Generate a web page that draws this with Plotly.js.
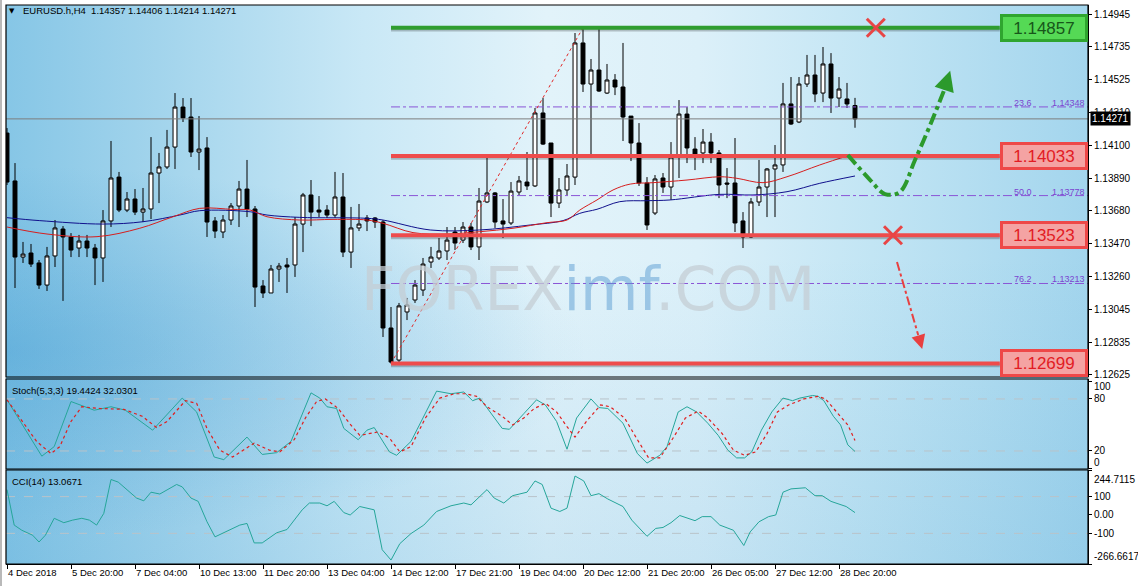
<!DOCTYPE html>
<html><head><meta charset="utf-8">
<script src="https://cdn.plot.ly/plotly-3.0.1.min.js"></script>
<style>
html,body{margin:0;padding:0;background:#fff;}
#wrap{position:relative;width:1138px;height:586px;overflow:hidden;background:#fff;}
#bg{position:absolute;left:6px;top:5px;width:1082px;height:559px;
background:
 radial-gradient(ellipse at 0% 62%, rgba(50,145,205,0.35) 0%, rgba(50,145,205,0) 38%),
 linear-gradient(180deg, rgba(255,255,255,0) 45%, rgba(40,140,200,0.12) 100%),
 linear-gradient(90deg, #86c6e6 0%, #a2d4ec 14%, #c9e8f6 33%, #e2f3fa 50%, #dcf0f9 64%, #c2e5f4 80%, #a3d5ed 100%);}
#frame{position:absolute;left:0;top:0;width:2px;height:586px;background:#b9b9b9;}
#chart{position:absolute;left:0;top:0;width:1138px;height:586px;}
</style></head>
<body><div id="wrap"><div id="bg"></div><div id="frame"></div><div id="chart"></div></div>
<script>
// ---------- DATA ----------
const symbolName = 'EURUSD.h,H4';
const timeTickIdx = [0, 8, 16, 24, 32, 40, 48, 56, 64, 72, 80, 88, 96, 104];
const timeTickText = ['4 Dec 2018','5 Dec 20:00','7 Dec 04:00','10 Dec 13:00','11 Dec 20:00','13 Dec 04:00','14 Dec 12:00','17 Dec 21:00','19 Dec 04:00','20 Dec 12:00','21 Dec 20:00','26 Dec 05:00','27 Dec 12:00','28 Dec 20:00'];
const priceTicks = [1.14945,1.14735,1.14525,1.14310,1.14100,1.13890,1.13680,1.13470,1.13260,1.13045,1.12835,1.12625];

const open = [1.14180,1.13872,1.13383,1.13409,1.13345,1.13203,1.13390,1.13563,1.13512,1.13441,
1.13486,1.13441,1.13377,1.13615,1.13897,1.13685,1.13756,1.13672,1.13692,1.13923,
1.13962,1.14090,1.14347,1.14283,1.14058,1.14084,1.13615,1.13544,1.13621,1.13711,
1.13820,1.13692,1.13197,1.13152,1.13306,1.13332,1.13332,1.13595,1.13782,1.13685,
1.13685,1.13653,1.13769,1.13415,1.13570,1.13634,1.13634,1.13608,1.12927,1.12721,
1.13030,1.13107,1.13171,1.13351,1.13377,1.13422,1.13544,1.13492,1.13576,1.13448,
1.13737,1.13795,1.13615,1.13602,1.13801,1.13865,1.13840,1.14309,1.14116,1.13730,
1.13814,1.13897,1.14759,1.14495,1.14585,1.14437,1.14521,1.14476,1.14289,1.14116,
1.13859,1.13666,1.13891,1.13833,1.14026,1.14302,1.14077,1.14052,1.14122,1.14052,
1.13859,1.13859,1.13615,1.13512,1.13737,1.13833,1.13949,1.13975,1.14367,1.14251,
1.14495,1.14553,1.14437,1.14624,1.14405,1.14399,1.14357];
const high = [1.14212,1.13987,1.13480,1.13467,1.13364,1.13448,1.13621,1.13582,1.13537,1.13525,
1.13525,1.13467,1.13685,1.14129,1.13930,1.13801,1.13820,1.13827,1.14154,1.14052,
1.14200,1.14437,1.14405,1.14405,1.14289,1.14154,1.13640,1.13653,1.13730,1.13872,
1.14007,1.13711,1.13235,1.13332,1.13345,1.13377,1.13640,1.13795,1.13878,1.13775,
1.13717,1.13930,1.13923,1.13705,1.13724,1.13653,1.13640,1.13621,1.13062,1.13088,
1.13120,1.13235,1.13377,1.13448,1.13505,1.13576,1.13576,1.13608,1.13602,1.13827,
1.14026,1.13801,1.13756,1.13865,1.13904,1.14058,1.14341,1.14405,1.14116,1.13891,
1.13981,1.14823,1.14857,1.14656,1.14857,1.14624,1.14559,1.14759,1.14289,1.14244,
1.13897,1.13910,1.13923,1.14122,1.14392,1.14347,1.14154,1.14206,1.14180,1.14071,
1.13955,1.14148,1.13672,1.13762,1.14007,1.13955,1.14103,1.14502,1.14540,1.14540,
1.14682,1.14682,1.14733,1.14694,1.14540,1.14502,1.14406];
const low = [1.13846,1.13184,1.13345,1.13319,1.13178,1.13165,1.13319,1.13101,1.13383,1.13383,
1.13383,1.13203,1.13223,1.13576,1.13672,1.13672,1.13653,1.13608,1.13627,1.13730,
1.13949,1.13949,1.14251,1.14026,1.13942,1.13512,1.13505,1.13505,1.13589,1.13576,
1.13640,1.13062,1.13120,1.13152,1.13223,1.13152,1.13255,1.13415,1.13582,1.13640,
1.13634,1.13634,1.13383,1.13313,1.13550,1.13550,1.13570,1.12869,1.12699,1.12702,
1.12978,1.13088,1.13133,1.13313,1.13364,1.13364,1.13428,1.13473,1.13428,1.13364,
1.13730,1.13570,1.13505,1.13589,1.13782,1.13814,1.13833,1.14103,1.13640,1.13698,
1.13782,1.13846,1.14444,1.14039,1.14444,1.14431,1.14424,1.14129,1.14000,1.13840,
1.13557,1.13653,1.13795,1.13750,1.13891,1.13987,1.13942,1.13987,1.13987,1.13762,
1.13762,1.13544,1.13441,1.13505,1.13711,1.13640,1.13640,1.13930,1.14232,1.14244,
1.14476,1.14379,1.14379,1.14309,1.14347,1.14341,1.14214];
const close = [1.13865,1.13383,1.13402,1.13338,1.13203,1.13390,1.13570,1.13512,1.13428,1.13486,
1.13441,1.13377,1.13615,1.13891,1.13685,1.13756,1.13672,1.13692,1.13923,1.13962,
1.14090,1.14347,1.14277,1.14058,1.14077,1.13608,1.13550,1.13621,1.13711,1.13820,
1.13692,1.13190,1.13152,1.13306,1.13325,1.13319,1.13595,1.13782,1.13672,1.13672,
1.13653,1.13769,1.13415,1.13570,1.13595,1.13615,1.13608,1.12927,1.12708,1.13069,
1.13075,1.13203,1.13338,1.13383,1.13422,1.13492,1.13473,1.13576,1.13448,1.13743,
1.13795,1.13608,1.13595,1.13807,1.13872,1.13840,1.14309,1.14109,1.13730,1.13814,
1.13904,1.14759,1.14495,1.14585,1.14450,1.14521,1.14476,1.14283,1.14116,1.13859,
1.13589,1.13885,1.13833,1.14026,1.14302,1.14084,1.14026,1.14122,1.14052,1.13846,
1.13852,1.13602,1.13512,1.13737,1.13833,1.13949,1.13975,1.14367,1.14238,1.14495,
1.14553,1.14431,1.14624,1.14405,1.14463,1.14367,1.14271];

// moving averages, read at bar positions
const maRedIdx = [0,5,11.25,16.6,20.75,24.1,28.25,30.4,32.5,36.6,40.75,45,47,50.75,55,59.1,63.25,67.5,70,71.6,73.75,75.75,77.9,80.75,85,89.1,91.25,94.5,97.5,101.6,105.4];
const maRed = [1.13576,1.13531,1.13514,1.13568,1.13642,1.13696,1.13689,1.13685,1.13642,1.13621,1.13625,1.13621,1.13600,1.13540,1.13531,1.13546,1.13568,1.13604,1.13621,1.13685,1.13750,1.13814,1.13852,1.13861,1.13878,1.13899,1.13889,1.13861,1.13899,1.13975,1.14039];
const maBlueIdx = [0,4.1,12,17,21.6,24.1,30.4,32.5,36.6,45,47,52.9,59.1,65.4,69.5,71.6,73.75,76.6,80,82.9,89.1,93.25,97.5,101.6,106];
const maBlue = [1.13636,1.13617,1.13595,1.13610,1.13653,1.13681,1.13674,1.13653,1.13638,1.13632,1.13621,1.13557,1.13557,1.13589,1.13617,1.13664,1.13690,1.13739,1.13745,1.13750,1.13786,1.13782,1.13803,1.13857,1.13904];

// horizontal levels and fibonacci
const levels = [1.14857, 1.14033, 1.13523, 1.12699];
const levelColors = ['#2f9d2f', '#ee4c4c', '#ee4c4c', '#ee4c4c'];
const fibNames = ['23.6', '50.0', '76.2'];
const fibValues = [1.14348, 1.13778, 1.13213];
const fibAnchorIdx = [48, 72];
const fibAnchorPrice = [1.12699, 1.14857];
const currentPrice = 1.14271;

// forecast drawings
const upPathIdx = [105.1, 107.9, 109.75, 111.6, 113.5, 115.4, 117.1];
const upPath = [1.14039, 1.13878, 1.13788, 1.13801, 1.14007, 1.14232, 1.14450];
const downPathIdx = [111.25, 113.9];
const downPath = [1.13351, 1.12882];
const crossIdx = [108.6, 110.75];
const crossPrice = [1.14857, 1.13523];

// Stochastic(5,3,3)
const stochKIdx = [0,4.35,5.9,8,10.9,13,14.8,18.2,21.9,23.7,25.9,27.1,30,31.9,33.7,35.5,38,39.1,40,41.2,42.1,43.9,45,45.9,47.8,48.7,50.5,53.7,55.5,57.1,58.2,59.1,61.9,62.8,64.6,66.2,67.3,68.7,70,71.2,73,74,75.1,77,78.8,80,81.6,82.5,83.9,85,86.2,87.6,88.9,90.1,91.2,92.2,93.1,94.3,95.6,97,98.2,99.1,100.7,101.4,102.1,103.3,104.2,105.1,106];
const stochK = [79,14,25,77,67,71,67,44,81,65,13,10,36,16,18,31,87,81,71,69,46,33,44,47,19,15,31,89,86,88,78,81,46,45,63,79,73,54,22,58,80,70,69,52,17,6,15,25,65,71,65,52,38,21,12,12,19,44,65,81,78,81,84,83,78,60,50,27,19.4424];
const stochDIdx = [0,1.6,3.7,5.5,6.6,8,9.35,11.6,14.6,16.9,18.7,20,22.3,23.7,25,26.6,28.2,30.9,32.8,34.1,35.9,37.3,38.7,39.8,41.4,42.8,44.1,46.4,47.8,49.1,50.5,52.3,54.1,55.9,57.3,58.7,60,61.9,63.2,64.6,65.9,67.3,68.7,70,71,72.5,74.2,75.4,77.2,78.8,80.2,81.6,83,84.8,86.4,87.6,89.4,90.8,92.2,93.6,95,96.3,97.7,99.6,101.4,102.3,103.7,105.1,106];
const stochD = [79,58,31,17,25,54,71,69,68,60,47,54,78,75,46,21,13,29,21,19,33,58,77,80,69,52,38,42,35,19,25,58,81,86,86,83,71,60,50,58,69,75,65,48,36,55,73,71,58,33,12,12,31,58,66,58,40,21,15,19,40,65,73,80,83,80,65,50,32.0301];

// CCI(14)
const cciIdx = [0,0.9,1.85,3.2,4,4.8,5.9,7.1,8.2,9.35,10.3,11.2,12.1,13,13.9,15.3,16.2,17.1,18,19.1,21.2,21.9,23,23.9,25,26,27.8,29.1,30,30.9,31.9,33.7,35,36.9,37.8,39.1,40,40.9,42.1,42.9,44.1,45.9,46.9,48,49.1,50.5,52.1,53.7,55.5,57.1,58,60,60.9,62.1,63.2,65,66,66.9,68,69.1,70,71,72.1,73,74,75.1,77,78.1,80,81.1,82,83,84.1,86,86.9,88,89.1,90.8,92.1,92.9,94,95.2,96.1,97,98,99.8,101,101.9,103,104.9,106];
const cci = [138,-55,-83,-110,-147,-110,-18,-42,-28,-18,-28,-55,9,193,179,124,92,77,124,114,166,153,92,74,-37,-119,-83,-55,-46,-152,-152,-97,-79,28,65,65,50,74,13,0,46,28,-189,-245,-156,-101,-55,19,50,65,55,138,92,65,105,124,185,166,37,19,37,212,185,105,116,87,46,-28,-116,-73,-68,-42,-3,-31,-9,-9,-55,-83,-166,-92,-37,-9,0,124,142,148,105,105,74,46,13.0671];
const stochTicks = [0, 20, 80, 100];
const stochTickText = ['', '20', '80', ''];
const cciMax = 244.7115, cciMin = -266.6617;
const cciTicks = [cciMin, -100, 0, 100, cciMax];
const cciTickText = ['', '-100', '0.00', '100', ''];

// ---------- CHART ----------
const idx = open.map((_, i) => i);
const last = open.length - 1;
const F = 'Liberation Sans, Arial, sans-serif';
const shadowShift = 0.00012;
const lvlStart = fibAnchorIdx[0];
const lvlEnd = 124.1;

const traces = [];
traces.push({type:'candlestick', x: idx, open, high, low, close, xaxis:'x', yaxis:'y',
  increasing:{line:{color:'#000', width:1}, fillcolor:'#ffffff'},
  decreasing:{line:{color:'#000', width:1}, fillcolor:'#000000'},
  whiskerwidth:0, hoverinfo:'skip', showlegend:false});
traces.push({type:'scatter', mode:'lines', x: maBlueIdx, y: maBlue, line:{color:'#10108c', width:1, shape:'spline'}, yaxis:'y', hoverinfo:'skip', showlegend:false});
traces.push({type:'scatter', mode:'lines', x: maRedIdx, y: maRed, line:{color:'#d61e1e', width:1, shape:'spline'}, yaxis:'y', hoverinfo:'skip', showlegend:false});
fibValues.forEach(v => traces.push({type:'scatter', mode:'lines', x:[lvlStart, 135.2], y:[v, v], line:{color:'#8a55d6', width:1, dash:'dashdot'}, hoverinfo:'skip', showlegend:false}));
traces.push({type:'scatter', mode:'lines', x: fibAnchorIdx, y: fibAnchorPrice, line:{color:'#e02828', width:1, dash:'dot'}, hoverinfo:'skip', showlegend:false});
traces.push({type:'scatter', mode:'lines', x:[-1, 136], y:[currentPrice, currentPrice], line:{color:'#7d7d7d', width:1}, hoverinfo:'skip', showlegend:false});
levels.forEach((v, k) => {
  traces.push({type:'scatter', mode:'lines', x:[lvlStart, lvlEnd], y:[v - shadowShift, v - shadowShift], line:{color:'rgba(0,0,0,0.22)', width:4}, hoverinfo:'skip', showlegend:false});
  traces.push({type:'scatter', mode:'lines', x:[lvlStart, lvlEnd], y:[v, v], line:{color: levelColors[k], width:4}, hoverinfo:'skip', showlegend:false});
});
traces.push({type:'scatter', mode:'lines', x: upPathIdx, y: upPath, line:{color:'#2c9a2c', width:4, dash:'dashdot', shape:'spline'}, hoverinfo:'skip', showlegend:false});
traces.push({type:'scatter', mode:'lines', x: downPathIdx, y: downPath, line:{color:'#e84040', width:2, dash:'dashdot'}, hoverinfo:'skip', showlegend:false});
traces.push({type:'scatter', mode:'markers', x: crossIdx, y: crossPrice, marker:{symbol:'x-thin', size:18, color:'#e84545', line:{width:3, color:'#e84545'}}, hoverinfo:'skip', showlegend:false});
traces.push({type:'scatter', mode:'lines', x: stochKIdx, y: stochK, yaxis:'y2', line:{color:'#26a69a', width:1}, hoverinfo:'skip', showlegend:false});
traces.push({type:'scatter', mode:'lines', x: stochDIdx, y: stochD, yaxis:'y2', line:{color:'#e01e1e', width:1.2, dash:'dot'}, hoverinfo:'skip', showlegend:false});
traces.push({type:'scatter', mode:'lines', x: cciIdx, y: cci, yaxis:'y3', line:{color:'#26a69a', width:1}, hoverinfo:'skip', showlegend:false});

const H = 559, TOP = 5;
const py = p => (H + TOP - p) / H;
const px = p => (p - 6) / 1082;
const dMain = [py(377), 1], dSto = [py(469), py(379)], dCci = [0, py(470)];

const axisCommon = {showgrid:false, zeroline:false, showline:true, linecolor:'#000', linewidth:1, ticks:'outside', ticklen:3, tickcolor:'#000', tickfont:{family:F, size:10, color:'#000'}, fixedrange:true, side:'right', anchor:'x'};

const shapes = [];
[dMain, dSto, dCci].forEach(d => shapes.push({type:'rect', xref:'paper', yref:'paper', x0:0, x1:1, y0:d[0], y1:d[1], line:{color:'#000', width:1.2}, fillcolor:'rgba(0,0,0,0)'}));
[20, 80].forEach(v => shapes.push({type:'line', xref:'paper', yref:'y2', x0:0, x1:1, y0:v, y1:v, line:{color:'#b9c3c9', width:1, dash:'dash'}, layer:'below'}));
[-100, 100].forEach(v => shapes.push({type:'line', xref:'paper', yref:'y3', x0:0, x1:1, y0:v, y1:v, line:{color:'#b9c3c9', width:1, dash:'dash'}, layer:'below'}));

const annotations = [];
const edgeLabel = (text, row) => ({xref:'paper', yref:'paper', x:1, xshift:4, y:py(row), xanchor:'left', yanchor:'middle', showarrow:false, text, font:{family:F, size:10, color:'#000'}});
annotations.push(edgeLabel(String(stochTicks[3]), 386));
annotations.push(edgeLabel(String(stochTicks[0]), 462));
annotations.push(edgeLabel(cciMax.toFixed(4), 479));
annotations.push(edgeLabel(cciMin.toFixed(4), 556));
annotations.push({xref:'paper', yref:'paper', x:px(7), y:py(11), text:'▼', showarrow:false, xanchor:'left', yanchor:'middle', font:{family:'DejaVu Sans', size:7, color:'#000'}});
annotations.push({xref:'paper', yref:'paper', x:px(21), y:py(11), xanchor:'left', yanchor:'middle', showarrow:false,
  text: symbolName + '  ' + [open[last], high[last], low[last], close[last]].map(v => v.toFixed(5)).join(' '), font:{family:F, size:9.5, color:'#000'}});
annotations.push({xref:'paper', yref:'paper', x:px(10), y:py(390), xanchor:'left', yanchor:'middle', showarrow:false,
  text:'Stoch(5,3,3) ' + stochK[stochK.length-1].toFixed(4) + ' ' + stochD[stochD.length-1].toFixed(4), font:{family:F, size:9.5, color:'#000'}});
annotations.push({xref:'paper', yref:'paper', x:px(10), y:py(481), xanchor:'left', yanchor:'middle', showarrow:false,
  text:'CCI(14) ' + cci[cci.length-1].toFixed(4), font:{family:F, size:9.5, color:'#000'}});
annotations.push({xref:'paper', yref:'paper', x:px(588), y:py(289), xanchor:'center', yanchor:'middle', showarrow:false,
  text:'<span style="color:rgba(196,205,212,0.75)">FOREX</span><span style="color:rgba(90,155,210,0.5)">imf</span><span style="color:rgba(196,205,212,0.75)">.COM</span>',
  font:{family:'DejaVu Sans', size:60}});
levels.forEach((v, k) => {
  const green = k === 0;
  annotations.push({xref:'paper', yref:'y', x:px(1044), y:v, xanchor:'center', yanchor:'middle', showarrow:false,
    text: v.toFixed(5), width:80, height:20, borderpad:1, borderwidth:3,
    bgcolor: green ? '#55d955' : '#f4a3a3', bordercolor: green ? '#2fa52f' : '#ee4848',
    font:{family:F, size:17, color: green ? '#17561a' : '#e21c24'}});
});
fibValues.forEach((v, k) => {
  annotations.push({xref:'paper', yref:'y', x:px(1023), y:v, xanchor:'center', yanchor:'bottom', yshift:-3, showarrow:false, text:fibNames[k], font:{family:F, size:9, color:'#7b45d0'}});
  annotations.push({xref:'paper', yref:'y', x:px(1087), y:v, xanchor:'right', yanchor:'bottom', yshift:-3, showarrow:false, text:v.toFixed(5), font:{family:F, size:9, color:'#7b45d0'}});
});
annotations.push({xref:'paper', yref:'y', x:1, xshift:2, y:currentPrice, xanchor:'left', yanchor:'middle', showarrow:false, text:currentPrice.toFixed(5), bgcolor:'#000', borderpad:1, font:{family:F, size:10, color:'#fff'}});
annotations.push({x:upPathIdx[upPathIdx.length-1] + 0.8, y:upPath[upPath.length-1] + 0.0013, ax:upPathIdx[upPathIdx.length-1], ay:upPath[upPath.length-1], axref:'x', ayref:'y', xref:'x', yref:'y', showarrow:true, arrowhead:2, arrowsize:1, arrowwidth:4, arrowcolor:'#2c9a2c', text:''});
annotations.push({x:downPathIdx[1] + 0.5, y:downPath[1] - 0.0009, ax:downPathIdx[1], ay:downPath[1], axref:'x', ayref:'y', xref:'x', yref:'y', showarrow:true, arrowhead:2, arrowsize:1.4, arrowwidth:2, arrowcolor:'#e84040', text:''});

const layout = {
  width:1138, height:586, margin:{l:6, r:50, t:TOP, b:22},
  paper_bgcolor:'rgba(0,0,0,0)', plot_bgcolor:'rgba(0,0,0,0)', showlegend:false,
  xaxis:{range:[-0.125, 135.125], anchor:'y3', showgrid:false, zeroline:false, showline:true, linecolor:'#000',
    tickvals:timeTickIdx, ticktext:timeTickText, ticks:'outside', ticklen:4, tickcolor:'#000', tickangle:0, automargin:false,
    ticklabelposition:'outside right', tickfont:{family:F, size:9.5, color:'#000'}, rangeslider:{visible:false}, fixedrange:true},
  yaxis: Object.assign({}, axisCommon, {domain:dMain, range:[1.12612, 1.15003], tickvals:priceTicks, tickformat:'.5f'}),
  yaxis2: Object.assign({}, axisCommon, {domain:dSto, range:[-0.8, 103], tickvals:stochTicks, ticktext:stochTickText}),
  yaxis3: Object.assign({}, axisCommon, {domain:dCci, range:[cciMin, cciMax], tickvals:cciTicks, ticktext:cciTickText}),
  shapes, annotations
};
Plotly.newPlot('chart', traces, layout, {staticPlot:true, displayModeBar:false});
</script></body></html>
